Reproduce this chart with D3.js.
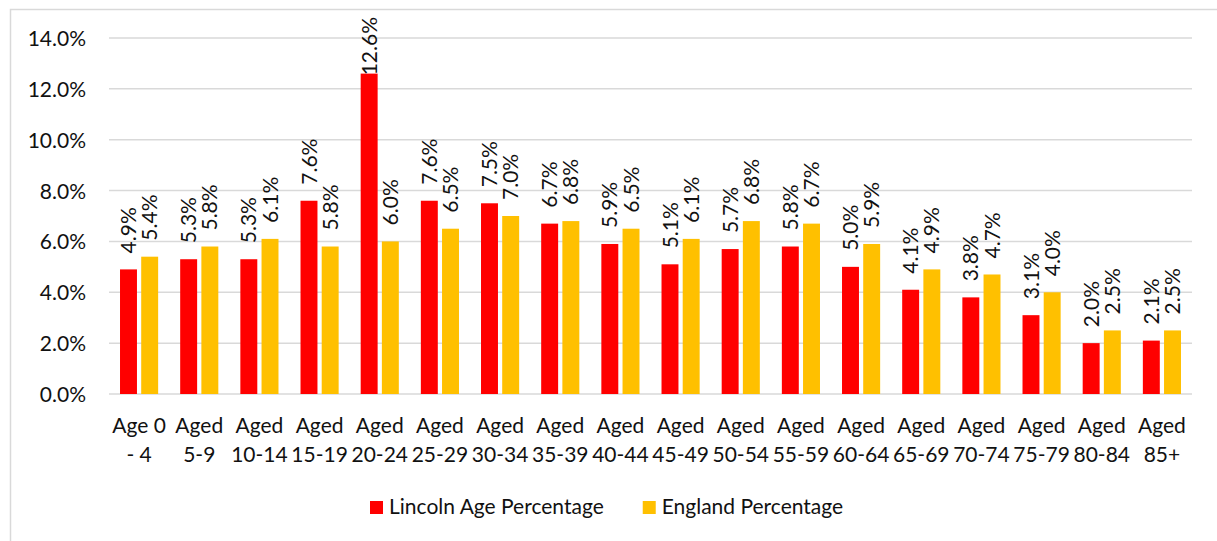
<!DOCTYPE html>
<html>
<head>
<meta charset="utf-8">
<script src="https://cdn.jsdelivr.net/npm/d3@7"></script>
<style>
html,body{margin:0;padding:0;background:#fff;}
svg{display:block;}
text{font-family:Lato,"Open Sans",sans-serif;fill:#111;}
</style>
</head>
<body>
<svg id="chart" width="1217" height="541"></svg>
<script>
const categories = ["Age 0 - 4","Aged 5-9","Aged 10-14","Aged 15-19","Aged 20-24","Aged 25-29","Aged 30-34","Aged 35-39","Aged 40-44","Aged 45-49","Aged 50-54","Aged 55-59","Aged 60-64","Aged 65-69","Aged 70-74","Aged 75-79","Aged 80-84","Aged 85+"];
const seriesNames = ["Lincoln Age Percentage","England Percentage"];
const lincoln = [4.9,5.3,5.3,7.6,12.6,7.6,7.5,6.7,5.9,5.1,5.7,5.8,5.0,4.1,3.8,3.1,2.0,2.1];
const england = [5.4,5.8,6.1,5.8,6.0,6.5,7.0,6.8,6.5,6.1,6.8,6.7,5.9,4.9,4.7,4.0,2.5,2.5];
const yTicks = [0,2,4,6,8,10,12,14];
const colors = ["#ff0000","#ffc000"];
const FS = 21;

const svg = d3.select("#chart");
svg.append("rect").attr("x",10.5).attr("y",9.5).attr("width",1300).attr("height",600)
  .attr("fill","#fff").attr("stroke","#d9d9d9").attr("stroke-width",1.5);

const x = d3.scaleBand().domain(categories).range([109,1192]).padding(0);
const x1 = d3.scaleBand().domain(seriesNames).range([0,x.bandwidth()]).paddingInner(0.2).paddingOuter(0.52);
const y = d3.scaleLinear().domain([0,14]).range([394,38]);

// gridlines
svg.append("g").selectAll("line").data(yTicks).join("line")
  .attr("x1",109).attr("x2",1192)
  .attr("y1",d=>y(d)).attr("y2",d=>y(d))
  .attr("stroke","#d9d9d9").attr("stroke-width",1.5);

// y axis labels
const yAxis = d3.axisLeft(y).tickValues(yTicks).tickFormat(d=>d.toFixed(1)+"%").tickSize(0).tickPadding(0);
const ga = svg.append("g").attr("transform","translate(86,0)").call(yAxis);
ga.select(".domain").remove();
ga.selectAll("text").attr("font-size",FS).style("font-family","Lato").attr("fill","#111").attr("dy","0.36em");

// bars
const data = categories.map((c,i)=>({cat:c, vals:[{s:seriesNames[0],v:lincoln[i],k:0},{s:seriesNames[1],v:england[i],k:1}]}));
const groups = svg.append("g").selectAll("g").data(data).join("g")
  .attr("transform",d=>`translate(${x(d.cat)},0)`);
groups.selectAll("rect").data(d=>d.vals).join("rect")
  .attr("x",d=>x1(d.s)).attr("width",x1.bandwidth())
  .attr("y",d=>y(d.v)).attr("height",d=>y(0)-y(d.v))
  .attr("fill",d=>colors[d.k]);

// data labels (rotated)
groups.selectAll("text.lbl").data(d=>d.vals).join("text")
  .attr("class","lbl")
  .attr("font-size",FS)
  .text(d=>d.v.toFixed(1)+"%")
  .each(function(d){
    const len = this.getComputedTextLength();
    const cx = x1(d.s)+x1.bandwidth()/2;
    const yy = Math.max(y(d.v)-16, 17+len);
    d3.select(this).attr("transform",`translate(${cx},${yy}) rotate(-90)`).attr("dy","0.36em");
  });

// category labels
const split = c => c.startsWith("Aged ") ? ["Aged", c.slice(5)] : [c.slice(0,5), c.slice(6)];
const cl = svg.append("g").selectAll("text").data(categories).join("text")
  .attr("x",d=>x(d)+x.bandwidth()/2).attr("text-anchor","middle").attr("font-size",FS);
cl.each(function(d){
  const lines = split(d);
  d3.select(this).selectAll("tspan").data(lines).join("tspan")
    .attr("x",x(d)+x.bandwidth()/2).attr("y",(l,i)=>433+i*29).text(l=>l);
});

// legend
const lg = svg.append("g");
let lx = 370;
seriesNames.forEach((s,i)=>{
  lg.append("rect").attr("x",lx).attr("y",501).attr("width",13).attr("height",13).attr("fill",colors[i]);
  const t = lg.append("text").attr("x",lx+19).attr("y",514).attr("font-size",FS).text(s);
  lx = lx + 19 + t.node().getComputedTextLength() + 39;
});
</script>
</body>
</html>
